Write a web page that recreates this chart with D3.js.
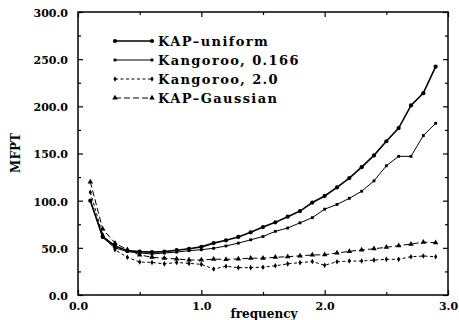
<!DOCTYPE html>
<html><head><meta charset="utf-8">
<script src="https://cdn.jsdelivr.net/npm/d3@7"></script>
<style>
body{margin:0;background:#fff;}
svg{display:block;}
text{font-family:"DejaVu Serif",serif;font-weight:bold;fill:#000;}
</style></head>
<body><svg id="c" width="459" height="320"></svg>
<script>
const freq = [0.1,0.2,0.3,0.4,0.5,0.6,0.7,0.8,0.9,1.0,1.1,1.2,1.3,1.4,1.5,1.6,1.7,1.8,1.9,2.0,2.1,2.2,2.3,2.4,2.5,2.6,2.7,2.8,2.9];
const kapUniform = [100,62,52,47,46,45.5,46,47.5,49,51,55,58,61.5,66.5,72,77,83,89,98,105,114,124,135.5,148,163,177,201,214,242];
const kangoroo0166 = [100,61,50,46,44.5,43.5,44.5,45.5,47,48,49.5,52,55,58.5,62,67.5,71,76.5,82,91,96,102.5,110,121,137,147,147,169,182];
const kangoroo20 = [109,64,48,40,35,34.5,33,34.5,33.5,32.5,27.5,30.5,29,29,29.5,31,33,34.3,35.5,31.5,35.3,36,36,37,37.8,37.8,40.6,41.3,40.6];
const kapGaussian = [120,70,55,48,42.5,40,39,38.2,37.1,37.1,38,37.8,38.2,39,39,40,40.6,41.5,42.4,42.7,44.5,46.3,47.7,49,50.6,52.3,54,56,55.5];
const seriesNames = ["KAP\u2013uniform","Kangoroo, 0.166","Kangoroo, 2.0","KAP\u2013Gaussian"];
const xTicks = [0,1,2,3];
const yTicks = [0,50,100,150,200,250,300];

const svg = d3.select("#c");
const L=78,R=448,T=12,B=295;
const x = d3.scaleLinear().domain([0,3]).range([L,R]);
const y = d3.scaleLinear().domain([0,300]).range([B,T]);

const series = [
  {name:seriesNames[0], vals:kapUniform, w:1.6, dash:null, sym:d3.symbolCircle, size:14},
  {name:seriesNames[1], vals:kangoroo0166, w:1, dash:null, sym:d3.symbolSquare, size:8},
  {name:seriesNames[2], vals:kangoroo20, w:1, dash:"3,2.5", sym:d3.symbolDiamond, size:9},
  {name:seriesNames[3], vals:kapGaussian, w:1, dash:"6,3", sym:d3.symbolTriangle, size:13}
];

const line = d3.line().x((d,i)=>x(freq[i])).y(d=>y(d));
series.forEach(s=>{
  svg.append("path").attr("d",line(s.vals)).attr("fill","none").attr("stroke","#000")
    .attr("stroke-width",s.w).attr("stroke-dasharray",s.dash);
  svg.append("g").selectAll("path").data(s.vals).join("path")
    .attr("transform",(d,i)=>`translate(${x(freq[i])},${y(d)})`)
    .attr("d",d3.symbol().type(s.sym).size(s.size)).attr("fill","#000");
});

// axes
const fmt = d3.format(".1f");
const ax = (g,a)=>{g.call(a); g.select(".domain").remove(); g.selectAll("line").attr("stroke","#000").attr("stroke-width",1.2);};
svg.append("g").attr("transform",`translate(${L},0)`).call(g=>ax(g,d3.axisLeft(y).tickValues(yTicks).tickSize(-5).tickPadding(10).tickFormat(fmt)))
  .selectAll("text").attr("font-size",11).attr("dy","0.4em");
svg.append("g").attr("transform",`translate(${L},0)`).call(g=>ax(g,d3.axisLeft(y).tickValues(d3.range(25,300,50)).tickSize(-3).tickFormat("")));
svg.append("g").attr("transform",`translate(${R},0)`).call(g=>ax(g,d3.axisRight(y).tickValues(yTicks).tickSize(-5).tickFormat("")));
svg.append("g").attr("transform",`translate(${R},0)`).call(g=>ax(g,d3.axisRight(y).tickValues(d3.range(25,300,50)).tickSize(-3).tickFormat("")));
svg.append("g").attr("transform",`translate(0,${B})`).call(g=>ax(g,d3.axisBottom(x).tickValues(xTicks).tickSize(-5).tickPadding(7).tickFormat(fmt)))
  .selectAll("text").attr("font-size",11);
svg.append("g").attr("transform",`translate(0,${B})`).call(g=>ax(g,d3.axisBottom(x).tickValues([0.5,1.5,2.5]).tickSize(-3).tickFormat("")));
svg.append("g").attr("transform",`translate(0,${T})`).call(g=>ax(g,d3.axisTop(x).tickValues(xTicks).tickSize(-5).tickFormat("")));
svg.append("g").attr("transform",`translate(0,${T})`).call(g=>ax(g,d3.axisTop(x).tickValues([0.5,1.5,2.5]).tickSize(-3).tickFormat("")));
svg.selectAll(".tick text").attr("font-family","DejaVu Serif").attr("font-weight","bold");

svg.append("rect").attr("x",L).attr("y",T).attr("width",R-L).attr("height",B-T)
  .attr("fill","none").attr("stroke","#000").attr("stroke-width",1.5);

// legend
const lg = svg.append("g");
series.forEach((s,i)=>{
  const yy = 41 + i*19;
  lg.append("line").attr("x1",115).attr("x2",152).attr("y1",yy).attr("y2",yy)
    .attr("stroke","#000").attr("stroke-width",s.w).attr("stroke-dasharray",s.dash);
  [115,152].forEach(px=>lg.append("path").attr("transform",`translate(${px},${yy})`)
    .attr("d",d3.symbol().type(s.sym).size(s.size)).attr("fill","#000"));
  lg.append("text").attr("x",158).attr("y",yy+4.5).attr("font-size",13).attr("letter-spacing",1.4).text(s.name);
});

svg.append("text").attr("x",264).attr("y",318).attr("text-anchor","middle").attr("font-size",12).text("frequency");
svg.append("text").attr("transform","translate(20,153) rotate(-90)").attr("text-anchor","middle").attr("font-size",12).text("MFPT");
</script></body></html>
